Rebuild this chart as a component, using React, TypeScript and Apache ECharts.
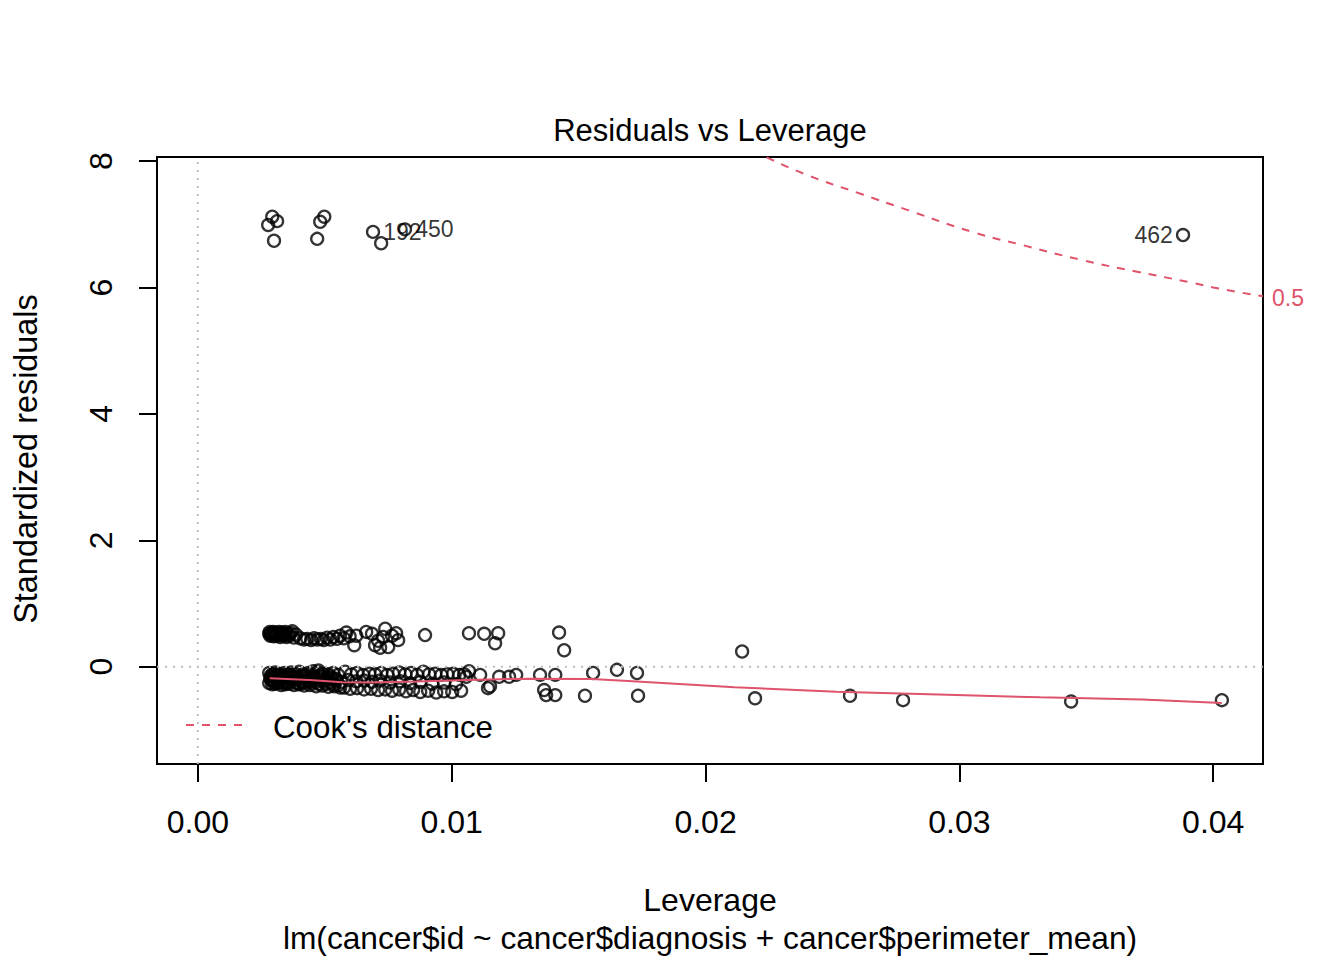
import React, { useEffect, useRef } from 'react';
import * as echarts from 'echarts';

const FONT = '"Liberation Sans", Arial, Helvetica, sans-serif';
const RED = '#DF536B';
const GREY = '#BEBEBE';

// axis ranges and ticks (leverage on x, standardized residuals on y)
const xRange = [-0.00161, 0.04196];
const yRange = [-1.54, 8.065];
const xTicks = [0, 0.01, 0.02, 0.03, 0.04];
const yTicks = [0, 2, 4, 6, 8];

// points around r = +0.5
const upperBand: number[][] = [
  [0.00281, 0.52], [0.00283, 0.55], [0.00285, 0.49], [0.00289, 0.53], [0.00292, 0.5],
  [0.00296, 0.55], [0.00299, 0.48], [0.00302, 0.52], [0.00306, 0.54], [0.00309, 0.49],
  [0.00313, 0.53], [0.00317, 0.5], [0.0032, 0.55], [0.00324, 0.47], [0.00328, 0.52],
  [0.00332, 0.54], [0.00336, 0.49], [0.0034, 0.51], [0.00345, 0.55], [0.00349, 0.47],
  [0.00354, 0.52], [0.00359, 0.49], [0.00365, 0.53], [0.00372, 0.56], [0.00378, 0.46],
  [0.00386, 0.51], [0.00403, 0.45], [0.00418, 0.43], [0.00431, 0.44], [0.00446, 0.42],
  [0.00458, 0.45], [0.00471, 0.43], [0.00484, 0.44], [0.00496, 0.42], [0.00509, 0.46],
  [0.00522, 0.43], [0.00534, 0.47], [0.00548, 0.44], [0.0056, 0.49], [0.00575, 0.45],
  [0.00585, 0.54], [0.00598, 0.48], [0.00616, 0.34], [0.00624, 0.49], [0.00663, 0.55],
  [0.00686, 0.52], [0.00698, 0.34], [0.0071, 0.41], [0.00718, 0.3], [0.0073, 0.47],
  [0.00738, 0.6], [0.0075, 0.31], [0.00765, 0.49], [0.00781, 0.53], [0.00789, 0.42],
  [0.00895, 0.5], [0.01068, 0.53], [0.01128, 0.52], [0.01171, 0.37], [0.01183, 0.53],
  [0.01423, 0.54], [0.01443, 0.26], [0.02144, 0.24],
];

// points around r = -0.2
const lowerBand: number[][] = [
  [0.00281, -0.1], [0.00293, -0.12], [0.00304, -0.09], [0.00316, -0.11], [0.00328, -0.13],
  [0.0034, -0.1], [0.00352, -0.12], [0.00367, -0.09], [0.00383, -0.11], [0.00399, -0.08],
  [0.00415, -0.12], [0.00435, -0.1], [0.00454, -0.13], [0.00474, -0.09], [0.00494, -0.11],
  [0.00514, -0.12], [0.00533, -0.1], [0.00553, -0.13],
  [0.00285, -0.19], [0.00296, -0.22], [0.00308, -0.2], [0.0032, -0.23], [0.00332, -0.18],
  [0.00344, -0.21], [0.0036, -0.2], [0.00375, -0.22], [0.00391, -0.19], [0.00407, -0.23],
  [0.00427, -0.21], [0.00446, -0.2], [0.00466, -0.24], [0.00486, -0.22], [0.00506, -0.21],
  [0.00525, -0.25], [0.00545, -0.23], [0.00565, -0.24],
  [0.00281, -0.26], [0.00293, -0.28], [0.00304, -0.27], [0.00316, -0.26], [0.00328, -0.29],
  [0.00344, -0.28], [0.0036, -0.27], [0.00379, -0.29], [0.00399, -0.28], [0.00419, -0.3],
  [0.00442, -0.29], [0.00466, -0.31], [0.0049, -0.3], [0.00514, -0.32], [0.00537, -0.31],
  [0.00561, -0.33],
  [0.00287, -0.15], [0.003, -0.16], [0.00312, -0.15], [0.00326, -0.16], [0.00338, -0.25],
  [0.003, -0.25], [0.00318, -0.24], [0.00455, -0.07], [0.00475, -0.06],
  [0.00352, -0.16], [0.00371, -0.15], [0.0039, -0.16], [0.0041, -0.15], [0.0043, -0.17],
  [0.0045, -0.16], [0.0047, -0.17], [0.0049, -0.16], [0.0051, -0.17], [0.0053, -0.18],
  [0.00355, -0.24], [0.00385, -0.25], [0.00415, -0.26], [0.00445, -0.25], [0.00475, -0.27],
  [0.00505, -0.27], [0.00535, -0.28], [0.00555, -0.29],
  [0.0029, -0.21], [0.00305, -0.13], [0.00322, -0.2], [0.00336, -0.15], [0.00348, -0.26],
  [0.00363, -0.13], [0.00378, -0.18], [0.00395, -0.26], [0.00422, -0.14], [0.00438, -0.23],
  [0.0046, -0.19], [0.00482, -0.14], [0.00498, -0.24], [0.0052, -0.15], [0.00542, -0.19],
  [0.0058, -0.08], [0.00604, -0.12], [0.00627, -0.1], [0.00651, -0.13], [0.00675, -0.11],
  [0.00698, -0.12], [0.00722, -0.1], [0.00746, -0.13], [0.00769, -0.11], [0.00793, -0.09],
  [0.00817, -0.12], [0.0084, -0.1], [0.00864, -0.13], [0.00888, -0.08], [0.00911, -0.12],
  [0.00935, -0.11], [0.00959, -0.13], [0.00982, -0.12], [0.01006, -0.11], [0.0103, -0.13],
  [0.01049, -0.12],
  [0.00593, -0.21], [0.00624, -0.23], [0.00655, -0.22], [0.00686, -0.24], [0.00718, -0.22],
  [0.00757, -0.25], [0.00797, -0.23], [0.00836, -0.26], [0.00876, -0.24], [0.00923, -0.27],
  [0.0097, -0.25], [0.01017, -0.28],
  [0.00576, -0.33], [0.006, -0.35], [0.00627, -0.34], [0.00655, -0.36], [0.00682, -0.35],
  [0.0071, -0.37], [0.00738, -0.36], [0.00765, -0.38], [0.00793, -0.36], [0.0082, -0.39],
  [0.00848, -0.37], [0.00876, -0.4], [0.00907, -0.38], [0.00939, -0.41], [0.0097, -0.39],
  [0.01002, -0.4], [0.01037, -0.38],
  [0.01057, -0.16], [0.01068, -0.07], [0.01112, -0.13], [0.01143, -0.34], [0.01151, -0.31],
  [0.01187, -0.16], [0.01226, -0.16], [0.01254, -0.13], [0.01348, -0.13], [0.01364, -0.37],
  [0.01372, -0.45], [0.01408, -0.13], [0.01408, -0.45], [0.01525, -0.46], [0.01557, -0.1],
  [0.01651, -0.05], [0.0173, -0.1], [0.01734, -0.46], [0.02195, -0.5], [0.02569, -0.46],
  [0.02778, -0.53], [0.0344, -0.55], [0.04034, -0.53],
];

// large residuals without a label
const outliers: number[][] = [
  [0.00277, 6.99], [0.00293, 7.12], [0.00312, 7.05], [0.003, 6.74], [0.0047, 6.77],
  [0.00482, 7.04], [0.00498, 7.12], [0.00722, 6.7],
];

// labelled observations
const labelIds = ['192', '450', '462'];
const labelH = [0.0069, 0.00816, 0.03881];
const labelR = [6.88, 6.92, 6.83];
const labelSide = ['right', 'right', 'left'];

// red smoother
const smoothH = [0.00283, 0.0044, 0.0057, 0.0068, 0.00862, 0.01059, 0.01307, 0.01551, 0.01713, 0.02114, 0.02516, 0.02917, 0.03319, 0.0372, 0.04034];
const smoothR = [-0.185, -0.21, -0.245, -0.25, -0.235, -0.21, -0.19, -0.194, -0.232, -0.327, -0.395, -0.442, -0.485, -0.521, -0.575];

// Cook's distance 0.5 contour
const cookH = [0.02241, 0.024, 0.02613, 0.028, 0.0305, 0.0325, 0.03487, 0.037, 0.03924, 0.04, 0.04196];
const cookR = [8.06, 7.78, 7.48, 7.22, 6.88, 6.67, 6.43, 6.25, 6.07, 6.0, 5.86];

export default function App() {
  const elRef = useRef<HTMLDivElement | null>(null);

  useEffect(() => {
    if (!elRef.current) return;
    const chart = echarts.init(elRef.current, undefined, { renderer: 'svg' });

    const txt = { fontFamily: FONT, color: '#000' };
    const ring = { color: 'rgba(0,0,0,0)', borderColor: '#000', borderWidth: 2.3 };

    const opt: echarts.EChartsOption = {
      animation: false,
      backgroundColor: '#fff',
      grid: {
        left: 157,
        top: 157,
        width: 1106,
        height: 607,
        show: true,
        borderColor: '#000',
        borderWidth: 2,
        backgroundColor: 'transparent',
      },
      xAxis: {
        type: 'value',
        min: xRange[0],
        max: xRange[1],
        axisLine: { show: true, onZero: false, lineStyle: { color: '#000', width: 2 } },
        axisTick: { show: true, length: 18, customValues: xTicks, lineStyle: { color: '#000', width: 2 } },
        axisLabel: {
          ...txt,
          fontSize: 32,
          margin: 42,
          customValues: xTicks,
          formatter: (v: number) => v.toFixed(2),
        },
        splitLine: { show: false },
      },
      yAxis: {
        type: 'value',
        min: yRange[0],
        max: yRange[1],
        axisLine: { show: true, onZero: false, lineStyle: { color: '#000', width: 2 } },
        axisTick: { show: true, length: 18, customValues: yTicks, lineStyle: { color: '#000', width: 2 } },
        axisLabel: {
          ...txt,
          fontSize: 32,
          margin: 40,
          rotate: 90,
          customValues: yTicks,
          formatter: (v: number) => String(v),
        },
        splitLine: { show: false },
      },
      series: [
        {
          type: 'line',
          data: [[0, yRange[0]], [0, yRange[1]]],
          symbol: 'none',
          silent: true,
          lineStyle: { color: GREY, width: 2, type: [2, 6] },
        },
        {
          type: 'line',
          data: [[xRange[0], 0], [xRange[1], 0]],
          symbol: 'none',
          silent: true,
          lineStyle: { color: GREY, width: 2, type: [2, 6] },
        },
        {
          type: 'scatter',
          data: [...upperBand, ...lowerBand, ...outliers],
          symbol: 'circle',
          symbolSize: 12,
          itemStyle: ring,
        },
        {
          type: 'scatter',
          symbol: 'circle',
          symbolSize: 12,
          itemStyle: ring,
          data: labelIds.map((id, i) => ({
            value: [labelH[i], labelR[i]],
            label: {
              show: true,
              formatter: id,
              position: labelSide[i] as any,
              distance: 3,
              ...txt,
              fontSize: 23,
            },
          })),
        },
        {
          type: 'line',
          data: smoothH.map((h, i) => [h, smoothR[i]]),
          symbol: 'none',
          lineStyle: { color: RED, width: 2 },
        },
        {
          type: 'line',
          data: cookH.map((h, i) => [h, cookR[i]]),
          symbol: 'none',
          smooth: true,
          lineStyle: { color: RED, width: 2, type: [8, 8] },
          endLabel: {
            show: true,
            formatter: '0.5',
            color: RED,
            fontFamily: FONT,
            fontSize: 23,
            distance: 9,
            offset: [0, 2],
          },
        },
      ],
      graphic: [
        {
          type: 'text',
          x: 710,
          y: 130,
          style: { text: 'Residuals vs Leverage', fontFamily: FONT, fontSize: 31, fill: '#000', align: 'center', verticalAlign: 'middle' },
        },
        {
          type: 'text',
          x: 710,
          y: 900,
          style: { text: 'Leverage', fontFamily: FONT, fontSize: 32, fill: '#000', align: 'center', verticalAlign: 'middle' },
        },
        {
          type: 'text',
          x: 710,
          y: 938,
          style: {
            text: 'lm(cancer$id ~ cancer$diagnosis + cancer$perimeter_mean)',
            fontFamily: FONT,
            fontSize: 31.7,
            fill: '#000',
            align: 'center',
            verticalAlign: 'middle',
          },
        },
        {
          type: 'text',
          x: 26,
          y: 459,
          rotation: Math.PI / 2,
          style: { text: 'Standardized residuals', fontFamily: FONT, fontSize: 32.4, fill: '#000', align: 'center', verticalAlign: 'middle' },
        },
        {
          type: 'line',
          shape: { x1: 186, y1: 725, x2: 244, y2: 725 },
          style: { stroke: RED, lineWidth: 2, lineDash: [8, 8] },
        },
        {
          type: 'text',
          x: 273,
          y: 727,
          style: { text: "Cook's distance", fontFamily: FONT, fontSize: 31.3, fill: '#000', align: 'left', verticalAlign: 'middle' },
        },
      ],
    };

    chart.setOption(opt);
    return () => {
      chart.dispose();
    };
  }, []);

  return (
    <div
      ref={elRef}
      style={{ position: 'fixed', left: 0, top: 0, width: 1344, height: 960, background: '#fff' }}
    />
  );
}
